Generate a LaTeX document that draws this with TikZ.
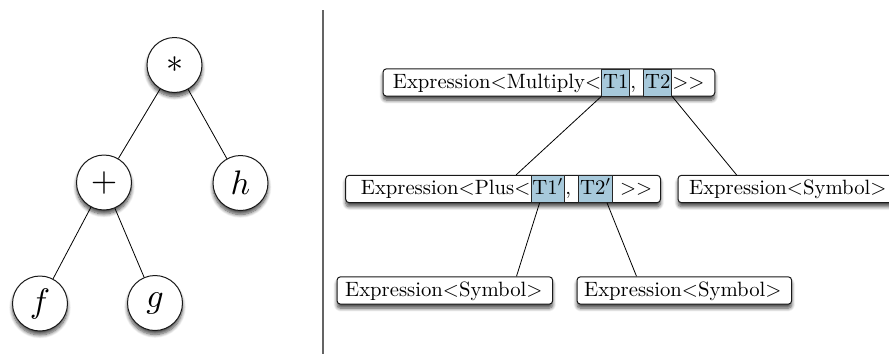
\documentclass[tikz,border=0pt]{standalone}
\usetikzlibrary{shadows,shadows.blur,fit,calc,backgrounds}
\definecolor{hlblue}{RGB}{167,201,219}
\definecolor{sepgray}{RGB}{100,100,100}
\newcommand{\bigsym}[1]{\scalebox{3.4}{$#1$}}
\newcommand{\bx}[1]{\scalebox{2.07}{#1}}
\begin{document}
\begin{tikzpicture}[x=1pt,y=-1pt,
  seg/.style={inner xsep=0pt, inner ysep=0pt, minimum height=27pt, text height=14.5pt, text depth=3.5pt, font=\fontsize{10}{12}\selectfont, anchor=west},
  hl/.style={seg, fill=hlblue, draw=black!85, line width=0.8pt, inner xsep=1.4pt},
  softshadow/.style={blur shadow={shadow xshift=0pt, shadow yshift=-4pt, shadow blur radius=3.5pt, shadow blur steps=8, shadow opacity=70}},
  exprbox/.style={draw=black!90, line width=1pt, fill=white, rounded corners=3.5pt, inner sep=0pt, softshadow},
  opnode/.style={circle, draw=black!90, line width=1pt, fill=white, minimum size=55pt, inner sep=0pt, font=\fontsize{10}{12}\selectfont, softshadow},
  link/.style={line width=0.8pt}]
\useasboundingbox (0,0) rectangle (889,354);

% left tree
\node[opnode] (star) at (174.5,65) {\bigsym{*}};
\node[opnode] (plus) at (104,182.5) {\bigsym{+}};
\node[opnode] (h) at (240.5,183) {\bigsym{h}};
\node[opnode] (f) at (40,303.5) {\bigsym{f}};
\node[opnode] (g) at (155,303) {\bigsym{g}};
\draw[link] (star) -- (plus);
\draw[link] (star) -- (h);
\draw[link] (plus) -- (f);
\draw[link] (plus) -- (g);

% separator
\coordinate (sTop) at (323,10);
\coordinate (sBot) at (323,354);
\draw[sepgray, line width=1.2pt] (sTop) -- (sBot);

% top box
\node[seg] (m0) at (392.7,82.5) {\bx{Expression$<$Multiply$<$}};
\node[hl] (mT1) at (m0.east) {\bx{T1}};
\node[seg] (m1) at (mT1.east) {\bx{,\ }};
\node[hl] (mT2) at (m1.east) {\bx{T2}};
\node[seg] (m2) at (mT2.east) {\bx{$>>$}};
\coordinate (mL) at ($(m0.west)+(-9.7,0)$);
\coordinate (mR) at ($(m2.east)+(10,0)$);

% second row left box
\node[seg] (p0) at (360.7,189) {\bx{Expression$<$Plus$<$}};
\node[hl] (pT1) at (p0.east) {\bx{T1$'$}};
\node[seg] (p1) at (pT1.east) {\bx{,\ }};
\node[hl] (pT2) at (p1.east) {\bx{T2$'$}};
\node[seg] (p2) at (pT2.east) {\bx{\ $>>$}};
\coordinate (pL) at ($(p0.west)+(-15,0)$);
\coordinate (pR) at ($(p2.east)+(8,0)$);

% second row right box
\node[seg] (r0) at (689,189) {\bx{Expression$<$Symbol$>$}};
\coordinate (rL) at ($(r0.west)+(-11,0)$);
\coordinate (rR) at ($(r0.east)+(10,0)$);

% bottom boxes
\node[seg] (b0) at (345,290.5) {\bx{Expression$<$Symbol$>$}};
\coordinate (bL) at ($(b0.west)+(-8,0)$);
\coordinate (bR) at ($(b0.east)+(10,0)$);
\node[seg] (c0) at (584,290.5) {\bx{Expression$<$Symbol$>$}};
\coordinate (cL) at ($(c0.west)+(-7,0)$);
\coordinate (cR) at ($(c0.east)+(10,0)$);

\begin{scope}[on background layer]
\node[exprbox, fit=(mL)(mR)(m0)] (M) {};
\node[exprbox, fit=(pL)(pR)(p0)] (P) {};
\node[exprbox, fit=(rL)(rR)(r0)] (R) {};
\node[exprbox, fit=(bL)(bR)(b0)] (BL) {};
\node[exprbox, fit=(cL)(cR)(c0)] (BR) {};
\end{scope}

\draw[link] (mT1.south west) -- ($(P.north west)+(171,0)$);
\draw[link] (mT2.south east) -- ($(R.north west)+(59,0)$);
\draw[link] ($(pT1.south west)+(9,0)$) -- ($(BL.north west)+(180,0)$);
\draw[link] ($(pT2.south east)+(-6,0)$) -- ($(BR.north west)+(60,0)$);
\end{tikzpicture}
\end{document}
